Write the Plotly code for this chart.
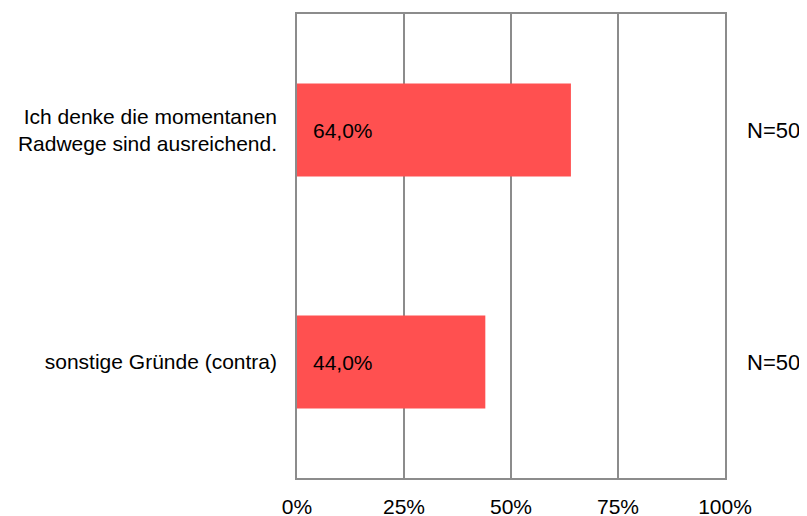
import plotly.graph_objects as go

categories = ["Ich denke die momentanen<br>Radwege sind ausreichend.", "sonstige Gründe (contra)"]
values = [64.0, 44.0]
n_labels = ["N=50", "N=50"]
tick_vals = [0, 25, 50, 75, 100]
tick_text = ["0%", "25%", "50%", "75%", "100%"]

fig = go.Figure()
fig.add_trace(go.Bar(
    x=values, y=categories, orientation="h",
    marker=dict(color="#FF5050", line=dict(width=0)),
    hoverinfo="skip",
))

# value labels inside the bars and N labels on the right
for cat, v, n in zip(categories, values, n_labels):
    fig.add_annotation(x=0, y=cat, xref="x", yref="y", text=f"{v:.1f}%".replace(".", ","),
                       showarrow=False, xanchor="left", xshift=14,
                       font=dict(size=21, color="#000000"))
    fig.add_annotation(x=1, y=cat, xref="paper", yref="y", text=n,
                       showarrow=False, xanchor="left", xshift=20,
                       font=dict(size=22, color="#000000"))

# page body has an 8px margin, so the figure is a bit smaller than the window
fig.update_layout(
    width=799, height=508,
    margin=dict(l=289, r=82, t=6, b=38),
    paper_bgcolor="white", plot_bgcolor="white",
    font=dict(family="Liberation Sans, Arial, sans-serif", color="#000000"),
    bargap=0.6,
    showlegend=False,
)
fig.update_xaxes(
    range=[0, 100], tickvals=tick_vals, ticktext=tick_text,
    tickfont=dict(size=21), showgrid=True, gridcolor="#8c8c8c", gridwidth=1.5,
    showline=True, linecolor="#8c8c8c", linewidth=1.5, mirror=True,
    ticks="outside", ticklen=9, tickcolor="rgba(0,0,0,0)", zeroline=False,
    automargin=False,
)
fig.update_yaxes(
    autorange="reversed", tickfont=dict(size=21),
    showline=True, linecolor="#8c8c8c", linewidth=1.5, mirror=True,
    ticks="outside", ticklen=14, tickcolor="rgba(0,0,0,0)", showgrid=False,
    automargin=False,
)

fig.write_html("out.html")
